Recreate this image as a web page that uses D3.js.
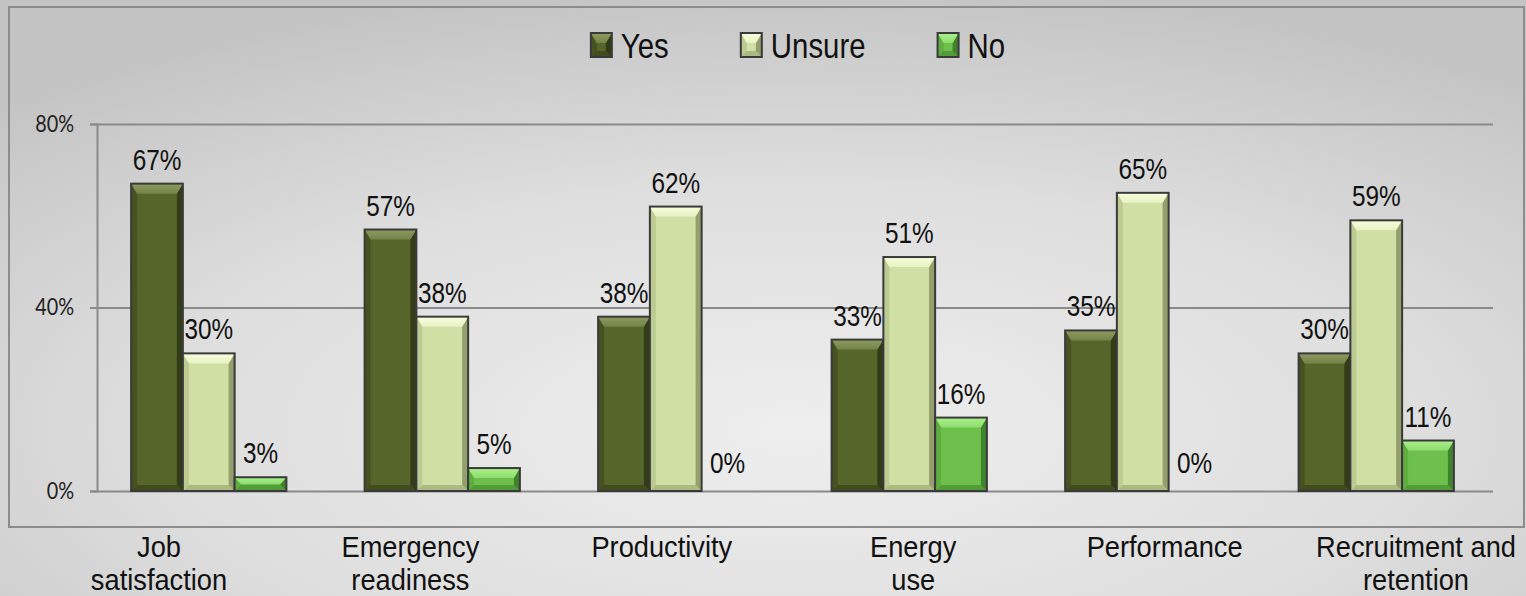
<!DOCTYPE html>
<html>
<head>
<meta charset="utf-8">
<script src="https://cdn.jsdelivr.net/npm/d3@7"></script>
<style>
  body { margin: 0; overflow: hidden; background: #d8d8d8; }
  svg { display: block; }
</style>
</head>
<body>
<svg id="chart" width="1526" height="596"></svg>
<script>
// ---- data ----
const categories = ["Job satisfaction", "Emergency readiness", "Productivity", "Energy use", "Performance", "Recruitment and retention"];
const categoryLines = [["Job", "satisfaction"], ["Emergency", "readiness"], ["Productivity"], ["Energy", "use"], ["Performance"], ["Recruitment and", "retention"]];
const seriesNames = ["Yes", "Unsure", "No"];
const yesValues = [67, 57, 38, 33, 35, 30];
const unsureValues = [30, 38, 62, 51, 65, 59];
const noValues = [3, 5, 0, 16, 0, 11];
const yTicks = [0, 40, 80];

const seriesValues = [yesValues, unsureValues, noValues];
// bar colours: base, top bevel, left edge, right edge
const palette = {
  Yes:    { base: "#56652a", top: "#8d9b60", left: "#465222", right: "#323c16" },
  Unsure: { base: "#d0e0a5", top: "#f8fedc", left: "#bccb92", right: "#939f6c" },
  No:     { base: "#6cc04b", top: "#a9f28a", left: "#5eae40", right: "#41832d" }
};

const svg = d3.select("#chart");
const W = 1526, H = 596;
const squish = 0.84; // the source text is horizontally condensed

// background
const defs = svg.append("defs");
const bg = defs.append("radialGradient").attr("id", "bg")
  .attr("cx", "52%").attr("cy", "72%").attr("r", "75%");
bg.append("stop").attr("offset", "0%").attr("stop-color", "#eeeeee");
bg.append("stop").attr("offset", "55%").attr("stop-color", "#dedede");
bg.append("stop").attr("offset", "100%").attr("stop-color", "#c4c4c4");
svg.append("rect").attr("width", W).attr("height", H).attr("fill", "url(#bg)");

// chart frame
svg.append("rect")
  .attr("x", 9).attr("y", 7).attr("width", 1515).attr("height", 520)
  .attr("fill", "none").attr("stroke", "#8c8c8c").attr("stroke-width", 2);

const plotLeft = 97, plotRight = 1493;

const x0 = d3.scaleBand().domain(categories).range([92, 1493])
  .paddingInner(0.335).paddingOuter(0.1675);
const x1 = d3.scaleBand().domain(seriesNames).range([0, x0.bandwidth()]);
const y = d3.scaleLinear().domain([0, 80]).range([491, 124]);

// gridlines
svg.append("g")
  .attr("transform", `translate(${plotLeft},0)`)
  .call(d3.axisLeft(y).tickValues(yTicks).tickSize(-(plotRight - plotLeft)).tickFormat(""))
  .call(g => g.select(".domain").remove())
  .call(g => g.selectAll("line").attr("stroke", "#8a8a8a").attr("stroke-width", 2));

// y axis
svg.append("g")
  .attr("transform", `translate(${plotLeft},0)`)
  .call(d3.axisLeft(y).tickValues(yTicks).tickSize(7).tickPadding(16).tickFormat(d => d + "%"))
  .call(g => g.select(".domain").attr("stroke", "#8a8a8a").attr("stroke-width", 2))
  .call(g => g.selectAll(".tick line").attr("stroke", "#8a8a8a").attr("stroke-width", 2))
  .call(g => g.selectAll(".tick text")
    .attr("font-family", "Lato, 'Open Sans', sans-serif")
    .attr("font-size", 23)
    .attr("fill", "#222")
    .attr("x", -23 / 0.86)
    .attr("transform", "scale(0.86,1)"));

// gradients for top bevels
seriesNames.forEach(s => {
  const lg = defs.append("linearGradient").attr("id", "top-" + s)
    .attr("x1", 0).attr("y1", 0).attr("x2", 0).attr("y2", 1);
  lg.append("stop").attr("offset", "0%").attr("stop-color", palette[s].top);
  lg.append("stop").attr("offset", "100%").attr("stop-color", d3.interpolateRgb(palette[s].top, palette[s].base)(0.45));
});

// bevelled bar
function bevelRect(g, x, yTop, w, h, s) {
  if (h <= 0) return;
  const c = palette[s];
  const b = Math.min(10, h / 2), e = Math.min(6, h / 2, w / 3);
  const x2 = x + w, y2 = yTop + h;
  g.append("rect").attr("x", x).attr("y", yTop).attr("width", w).attr("height", h).attr("fill", c.base);
  // left side
  g.append("polygon").attr("fill", c.left)
    .attr("points", [[x, yTop], [x + e, yTop + b], [x + e, y2 - e], [x, y2]].join(" "));
  // right side
  g.append("polygon").attr("fill", c.right)
    .attr("points", [[x2, yTop], [x2 - e, yTop + b], [x2 - e, y2 - e], [x2, y2]].join(" "));
  // bottom
  g.append("polygon").attr("fill", c.right).attr("opacity", 0.6)
    .attr("points", [[x, y2], [x + e, y2 - e], [x2 - e, y2 - e], [x2, y2]].join(" "));
  // top
  g.append("polygon").attr("fill", `url(#top-${s})`)
    .attr("points", [[x, yTop], [x2, yTop], [x2 - e, yTop + b], [x + e, yTop + b]].join(" "));
  g.append("rect").attr("x", x).attr("y", yTop).attr("width", w).attr("height", h)
    .attr("fill", "none").attr("stroke", "#3a3a3a").attr("stroke-width", 2);
}

// bars
const groups = svg.append("g").selectAll("g")
  .data(categories)
  .join("g")
  .attr("transform", d => `translate(${x0(d)},0)`);

groups.each(function(cat, i) {
  const g = d3.select(this);
  seriesNames.forEach((s, k) => {
    const v = seriesValues[k][i];
    const bx = x1(s), bw = x1.bandwidth();
    bevelRect(g, bx, y(v), bw, y(0) - y(v), s);
    g.append("text")
      .attr("transform", `translate(${bx + bw / 2},${y(v) - (v > 0 ? 14 : 18)}) scale(${squish},1)`)
      .attr("text-anchor", "middle")
      .attr("font-family", "'Liberation Sans', Arial, sans-serif")
      .attr("font-size", 29)
      .attr("fill", "#111")
      .text(v + "%");
  });
});

// category labels (sit below the frame, evenly spaced)
const xLab = d3.scalePoint().domain(categories).range([159, 1416]);
svg.append("g").selectAll("text")
  .data(categories)
  .join("text")
  .attr("transform", d => `translate(${xLab(d)},557) scale(0.94,1)`)
  .attr("text-anchor", "middle")
  .attr("font-family", "'Liberation Sans', Arial, sans-serif")
  .attr("font-size", 29)
  .attr("fill", "#111")
  .each(function(d, i) {
    d3.select(this).selectAll("tspan")
      .data(categoryLines[i])
      .join("tspan")
      .attr("x", 0)
      .attr("dy", (t, j) => j === 0 ? 0 : 33)
      .text(t => t);
  });

// legend
const legend = svg.append("g");
let lx = 0;
seriesNames.forEach((s, k) => {
  const item = legend.append("g").attr("transform", `translate(${lx},0)`);
  bevelRect(item, 0, 33, 21, 24, s);
  const t = item.append("text")
    .attr("transform", `translate(30,58) scale(${squish},1)`)
    .attr("font-family", "'Liberation Sans', Arial, sans-serif")
    .attr("font-size", 35)
    .attr("fill", "#111")
    .text(s);
  lx += 30 + t.node().getComputedTextLength() * squish + 72;
});
const lw = lx - 72;
legend.attr("transform", `translate(${798 - lw / 2},0)`);
</script>
</body>
</html>
